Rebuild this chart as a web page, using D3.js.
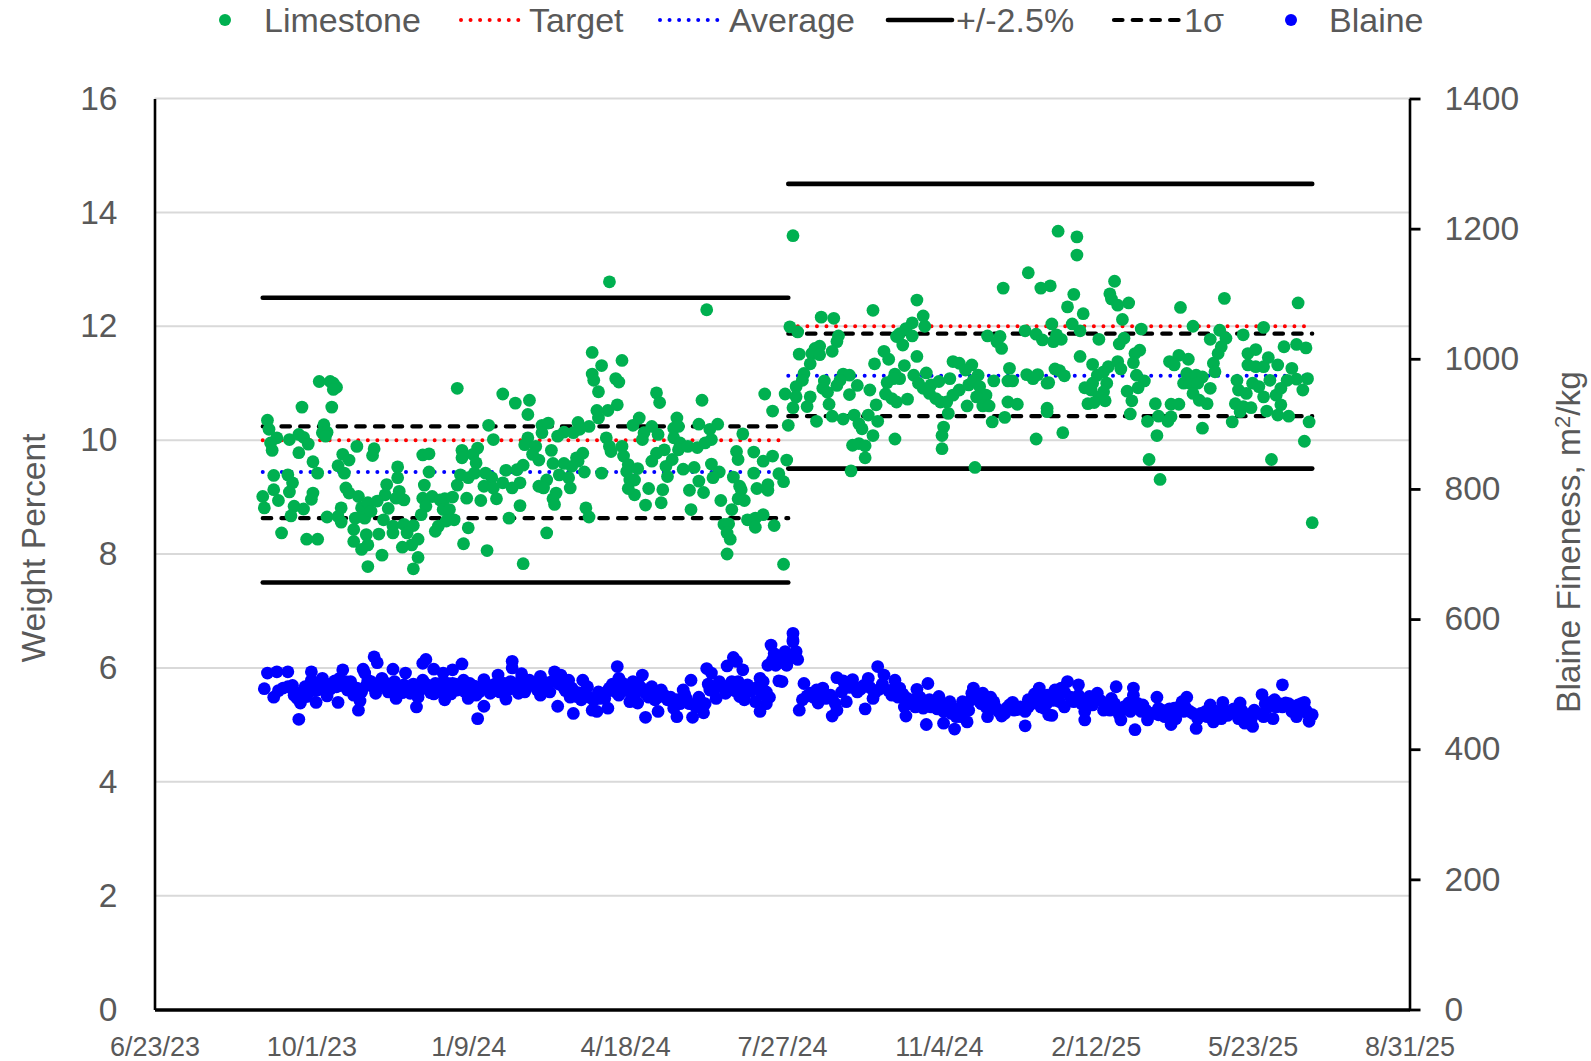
<!DOCTYPE html>
<html>
<head>
<meta charset="utf-8">
<script src="https://cdn.jsdelivr.net/npm/d3@7"></script>
<style>
  html, body { margin: 0; padding: 0; background: #fff; }
  text { font-family: "Liberation Sans", Arial, sans-serif; fill: #595959; }
</style>
</head>
<body>
<svg width="1591" height="1061"></svg>
<script>
// x values are days after the first axis date, 6/23/23
const START_DATE = Date.UTC(2023, 5, 23);
const X_TICK_DAYS = [0, 100, 200, 300, 400, 500, 600, 700, 800];
const WEIGHT_TICKS = [0, 2, 4, 6, 8, 10, 12, 14, 16];
const BLAINE_TICKS = [0, 200, 400, 600, 800, 1000, 1200, 1400];

// [day, weight percent]
const limestone = [
  [105,11.03],[112,11.03],[114,11.0],[116,10.93],[114,10.89],[94,10.58],[113,10.58],[193,10.91],[222,10.81],[230,10.65],
  [72,10.35],[73,10.19],[78,10.04],[74,9.95],[75,9.82],[86,10.01],[92,10.10],[95,10.05],[98,9.93],[92,9.78],
  [108,10.27],[107,10.13],[110,10.14],[109,10.07],[213,10.26],[216,10.01],[129,9.89],[140,9.85],[139,9.73],[171,9.74],
  [175,9.76],[196,9.82],[196,9.69],[206,9.86],[203,9.75],[205,9.60],[120,9.75],[124,9.65],[101,9.62],[117,9.55],
  [121,9.42],[104,9.42],[155,9.53],[155,9.34],[175,9.44],[76,9.38],[85,9.39],[88,9.25],[86,9.09],[76,9.13],
  [69,9.01],[79,8.94],[70,8.81],[101,9.07],[100,8.96],[122,9.16],[124,9.07],[130,9.01],[148,9.22],[147,9.04],
  [156,9.10],[154,8.98],[159,8.95],[172,9.21],[171,8.98],[177,9.01],[173,8.84],[170,8.69],[193,9.21],[195,9.39],
  [200,9.34],[204,9.42],[211,9.42],[215,9.34],[210,9.19],[216,9.16],[222,9.25],[228,9.16],[224,9.47],[231,9.48],
  [208,8.94],[218,8.97],[199,8.98],[190,9.0],[185,8.97],[182,8.95],[89,8.84],[95,8.79],[87,8.67],[110,8.65],
  [119,8.81],[117,8.66],[119,8.56],[128,8.63],[134,8.63],[132,8.81],[136,8.90],[142,8.93],[138,8.75],[149,8.80],
  [146,8.60],[184,8.78],[188,8.78],[191,8.60],[186,8.58],[181,8.49],[179,8.40],[226,8.63],[233,8.85],[81,8.37],
  [97,8.26],[104,8.26],[127,8.43],[127,8.22],[135,8.34],[136,8.16],[132,8.08],[143,8.35],[152,8.49],[152,8.37],
  [159,8.52],[165,8.50],[161,8.37],[168,8.26],[164,8.16],[158,8.12],[145,7.98],[136,7.78],[168,7.94],[165,7.74],
  [200,8.46],[197,8.18],[212,8.06],[235,7.83],
  [290,12.78],[352,12.29],[279,11.54],[285,11.31],[298,11.40],[279,11.16],[280,11.05],[294,11.08],[296,11.02],[283,10.85],
  [320,10.83],[322,10.66],[349,10.70],[389,10.81],[402,10.81],[394,10.51],[239,10.70],[238,10.45],[295,10.62],[289,10.52],
  [282,10.52],[283,10.39],[247,10.26],[251,10.30],[247,10.13],[270,10.31],[277,10.24],[271,10.19],[267,10.13],[261,10.14],
  [257,10.07],[309,10.39],[305,10.26],[317,10.24],[321,10.10],[312,10.13],[311,10.01],[333,10.39],[331,10.21],[334,10.24],
  [347,10.28],[404,10.26],[359,10.28],[354,10.19],[331,10.04],[335,9.95],[334,9.83],[340,9.89],[346,9.87],[351,9.95],
  [355,10.01],[375,10.11],[238,10.04],[236,9.92],[243,9.89],[241,9.75],[245,9.65],[253,9.82],[288,10.04],[290,9.89],
  [291,9.80],[298,9.89],[299,9.72],[302,9.57],[273,9.77],[269,9.69],[270,9.63],[266,9.54],[254,9.59],[261,9.59],
  [235,9.56],[233,9.25],[274,9.44],[258,9.39],[264,9.34],[285,9.42],[301,9.45],[308,9.50],[303,9.30],[306,9.30],
  [325,9.83],[320,9.77],[317,9.63],[330,9.66],[326,9.54],[327,9.36],[337,9.49],[344,9.52],[355,9.58],[360,9.44],
  [356,9.34],[371,9.80],[372,9.66],[382,9.79],[394,9.72],[388,9.63],[403,9.65],[382,9.42],[398,9.41],[401,9.27],
  [369,9.35],[373,9.19],[374,9.13],[391,9.22],[391,9.12],[384,9.15],[372,8.97],[376,8.94],[361,8.94],[347,9.28],
  [341,9.12],[350,9.08],[324,9.13],[323,8.90],[315,9.15],[306,9.04],[302,9.15],[250,9.30],[245,9.19],[248,9.16],
  [265,9.16],[256,9.07],[254,8.97],[255,8.87],[313,8.86],[275,8.81],[277,8.65],[342,8.78],[368,8.78],[378,8.60],
  [383,8.63],[388,8.69],[383,8.47],[395,8.50],[363,8.52],[366,8.53],[365,8.37],[367,8.26],[250,8.37],[365,8.0],[401,7.82],
  [407,13.59],[405,11.99],[410,11.90],[425,12.16],[433,12.14],[458,12.28],[486,12.46],[490,12.18],[491,12.00],[483,12.06],
  [479,11.96],[475,11.87],[473,11.82],[483,11.83],[477,11.67],[436,11.83],[435,11.73],[432,11.56],[424,11.65],[421,11.61],
  [419,11.52],[424,11.50],[411,11.51],[418,11.34],[465,11.56],[468,11.42],[459,11.34],[486,11.47],[478,11.31],[414,11.17],
  [413,11.05],[409,10.94],[409,10.76],[418,10.76],[407,10.57],[416,10.59],[427,11.04],[426,10.91],[429,10.84],[430,10.63],
  [439,11.16],[443,11.14],[437,11.05],[435,10.96],[448,10.96],[443,10.80],[456,10.88],[467,11.01],[472,11.16],[475,11.08],
  [471,11.08],[466,10.81],[470,10.73],[473,10.67],[480,10.72],[460,10.62],[484,11.14],[487,11.0],[492,11.18],[490,10.91],
  [495,10.97],[500,11.03],[494,10.82],[498,10.73],[501,10.67],[505,10.67],[507,11.08],[509,10.79],[513,10.88],[519,10.97],
  [509,11.38],[513,11.35],[521,11.32],[517,11.23],[525,11.14],[522,11.05],[526,10.94],[530,10.79],[524,10.76],[518,10.60],
  [528,10.60],[532,10.60],[506,10.47],[535,11.04],[545,11.26],[544,11.04],[547,11.04],[544,10.67],[550,10.63],[531,11.83],
  [539,11.82],[537,11.73],[540,11.61],[555,11.92],[562,11.86],[566,11.76],[556,11.15],[560,11.08],[563,11.15],[569,11.0],
  [569,10.56],[541,12.67],[557,12.94],[565,12.67],[571,12.71],[432,10.42],[439,10.37],[446,10.44],[449,10.29],[451,10.20],
  [455,10.44],[461,10.33],[458,10.08],[472,10.02],[422,10.33],[445,9.91],[449,9.94],[453,9.90],[453,9.69],[444,9.46],
  [503,10.23],[502,10.08],[502,9.85],[534,10.32],[542,10.40],[562,10.02],[523,9.52],
  [576,13.67],[588,13.57],[588,13.25],[612,12.79],[609,12.57],[610,12.48],[614,12.37],[621,12.41],[586,12.56],[582,12.34],
  [592,12.22],[617,12.12],[654,12.33],[682,12.49],[729,12.41],[572,12.04],[585,12.04],[590,11.92],[629,11.95],[662,12.0],
  [679,11.93],[707,11.98],[694,11.85],[673,11.77],[683,11.79],[680,11.64],[678,11.52],[573,11.73],[578,11.77],[575,11.85],
  [602,11.77],[618,11.79],[615,11.69],[628,11.58],[625,11.52],[624,11.36],[590,11.47],[598,11.33],[608,11.29],[614,11.38],
  [616,11.25],[574,11.25],[577,11.22],[580,11.13],[570,11.01],[605,11.20],[601,11.14],[598,11.0],[607,11.0],[593,10.92],
  [597,10.88],[605,10.85],[602,10.76],[606,10.69],[599,10.66],[595,10.64],[626,11.14],[631,11.04],[627,10.92],[620,10.86],
  [623,10.69],[569,10.50],[622,10.46],[638,10.64],[648,10.63],[653,10.63],[640,10.42],[648,10.41],[646,10.33],[633,10.33],
  [579,10.13],[639,10.08],[668,10.21],[634,9.66],[712,9.66],[641,9.31],[733,9.98],[738,8.55],[736,10.32],[723,10.42],
  [687,10.32],[647,11.38],[653,11.49],[650,11.32],[659,11.42],[658,11.17],[656,11.0],[660,11.0],[664,11.14],[668,11.11],
  [665,11.0],[673,10.91],[662,10.82],[666,10.70],[671,10.64],[675,11.35],[676,11.2],[690,11.05],[691,10.88],[689,10.64],
  [692,10.50],[694,10.59],[699,10.57],[696,10.82],[700,11.0],[704,10.94],[707,10.76],[711,11.05],[715,10.79],[718,10.62],
  [716,10.44],[709,10.51],[697,11.52],[702,11.59],[697,11.32],[702,11.29],[707,11.29],[710,11.45],[716,11.32],[720,11.64],
  [728,11.68],[734,11.62],[725,11.26],[735,11.08],[732,10.88],[728,11.07],[722,11.05],[718,10.91]
];

// [day, Blaine fineness]
const blaine = [
  [78,519],[72,517],[85,519],[100,519],[120,522],[133,523],[140,542],[142,533],[152,523],[160,517],
  [173,538],[171,532],[178,523],[184,517],[190,522],[196,531],[228,535],[228,525],[210,507],[219,514],
  [234,516],[70,493],[76,480],[79,490],[85,496],[89,483],[93,471],[92,446],[96,496],[100,506],
  [103,472],[107,509],[110,482],[117,472],[113,501],[118,509],[125,504],[129,494],[127,483],[131,474],
  [130,460],[136,506],[140,494],[145,509],[148,501],[154,478],[153,504],[159,499],[163,486],[167,465],
  [171,506],[176,496],[178,485],[185,476],[179,501],[187,501],[193,491],[197,506],[200,478],[201,501],
  [205,483],[210,466],[206,447],[214,486],[219,494],[224,477],[227,504],[231,491],[237,501],[236,488],
  [82,494],[91,478],[97,481],[104,491],[109,496],[116,496],[123,491],[134,517],[143,499],[150,494],
  [167,494],[182,488],[190,501],[207,488],[222,494],
  [88,498],[94,488],[99,497],[102,490],[106,500],[112,492],[115,505],[119,498],[122,504],[126,496],
  [132,488],[135,498],[138,504],[141,486],[146,497],[149,488],[152,494],[156,497],[158,487],[161,492],
  [165,500],[168,480],[170,492],[173,500],[176,487],[180,494],[183,502],[186,492],[189,485],[192,500],
  [195,495],[198,488],[202,493],[204,497],[208,495],[212,499],[215,492],[217,500],[220,488],[223,501],
  [226,492],[229,500],[232,486],[235,496],
  [234,509],[239,506],[246,512],[246,483],[255,519],[259,514],[264,506],[266,494],[257,466],[267,455],
  [273,506],[276,496],[272,476],[279,460],[282,458],[283,488],[289,463],[295,527],[296,509],[290,494],
  [296,483],[305,504],[311,514],[303,473],[308,471],[313,449],[317,496],[321,458],[323,491],[319,476],
  [327,476],[331,463],[333,450],[337,491],[339,478],[343,449],[350,456],[348,473],[342,506],[352,524],
  [355,517],[360,504],[354,491],[358,478],[364,486],[365,528],[369,541],[371,535],[375,522],[368,504],
  [372,504],[373,481],[378,499],[376,476],[386,509],[388,504],[383,473],[390,488],[390,470],[386,458],
  [391,529],[396,529],[393,560],[395,547],[402,550],[403,529],[408,547],[407,568],[407,578],[398,505],
  [244,491],[252,488],[261,494],[237,494],[269,481],[287,478],[299,494],[313,486],[333,476],[405,542],
  [394,537],[399,542],
  [242,500],[247,497],[250,502],[254,505],[258,500],[262,490],[265,480],[270,487],[274,488],[277,480],
  [280,475],[284,478],[288,488],[292,500],[294,488],[298,502],[301,490],[304,494],[306,483],[309,498],
  [312,492],[315,480],[318,488],[321,480],[325,483],[329,480],[331,473],[335,470],[338,484],[341,470],
  [345,465],[347,480],[351,470],[353,500],[356,490],[359,496],[362,498],[366,495],[370,490],[374,493],
  [380,489],[384,495],[387,485],[392,480],
  [407,565],[402,545],[409,550],[410,538],[403,530],[400,504],[414,501],[413,476],[411,460],[418,486],
  [423,471],[426,494],[422,491],[432,478],[432,451],[435,460],[435,510],[439,505],[445,507],[441,473],
  [448,488],[453,462],[455,509],[459,486],[461,527],[465,514],[472,506],[470,483],[475,494],[478,465],
  [479,451],[486,492],[484,476],[490,463],[493,501],[494,476],[492,438],[500,481],[503,458],[503,440],
  [507,473],[510,431],[511,450],[515,473],[518,442],[519,460],[522,494],[521,486],[528,486],[526,473],
  [535,473],[531,450],[533,463],[540,451],[547,472],[543,463],[550,461],[557,465],[555,436],[557,476],
  [564,494],[562,478],[569,483],[570,453],[565,465],
  [416,482],[420,480],[425,485],[428,478],[431,483],[434,470],[438,488],[443,495],[447,495],[450,492],
  [452,498],[456,495],[458,478],[462,492],[464,500],[468,490],[471,492],[474,480],[477,485],[480,478],
  [482,470],[485,465],[488,480],[491,470],[495,465],[497,472],[499,462],[502,470],[505,462],[508,455],
  [512,462],[514,450],[517,463],[520,475],[523,483],[525,480],[527,470],[530,465],[533,480],[536,465],
  [538,458],[542,455],[545,468],[548,460],[552,465],[555,458],[559,470],[561,485],[566,480],
  [582,504],[589,499],[578,494],[574,491],[571,481],[577,473],[565,471],[567,463],[572,452],[586,473],
  [589,483],[593,458],[593,445],[596,481],[601,486],[605,460],[609,460],[610,478],[613,496],[615,453],
  [616,445],[621,471],[624,494],[624,483],[625,430],[630,468],[633,445],[639,480],[640,463],[640,453],
  [646,453],[648,438],[650,463],[655,473],[658,480],[651,447],[660,458],[664,432],[665,447],[670,458],
  [673,468],[675,442],[680,447],[681,472],[686,458],[692,471],[691,447],[695,440],[700,435],[701,460],
  [706,484],[707,450],[713,447],[714,476],[719,499],[721,471],[728,450],[729,468],[733,472],[736,443],
  [738,453],[734,460],[725,458],[709,463],[697,453],[677,458],[656,458],
  [569,471],[573,475],[576,484],[580,488],[584,480],[580,465],[591,470],[595,470],[598,468],[603,475],
  [607,468],[612,470],[614,462],[618,465],[622,458],[627,470],[629,458],[632,460],[636,455],[642,460],
  [644,450],[647,462],[653,465],[657,465],[662,455],[667,455],[671,450],[676,458],[678,450],[682,460],
  [684,452],[688,462],[690,455],[693,460],[696,448],[699,445],[703,455],[708,470],[711,472],[715,465],
  [717,470],[719,465],[723,470],[726,465],[730,458],[731,470],[735,455]
];

// horizontal reference lines, [startDay, endDay, value]
const targetLines = [[69, 399, 10], [404, 733, 12]];
const averageLines = [[69, 399, 9.44], [404, 733, 11.13]];
const limitLines = [[69, 404, 12.5], [69, 404, 7.5], [404, 738, 14.5], [404, 738, 9.5]];
const sigmaLines = [[69, 404, 10.24], [69, 404, 8.63], [404, 738, 11.87], [404, 738, 10.42]];

const legendLabels = ["Limestone", "Target", "Average", "+/-2.5%", "1σ", "Blaine"];

const GREEN = "#00b050", BLUE = "#0000ff", RED = "#ff0000", GREY = "#595959";

const svg = d3.select("svg");
const margin = {top: 98.5, right: 181.5, bottom: 51.5, left: 154.5},
  width = 1591 - margin.left - margin.right,
  height = 1061 - margin.top - margin.bottom,
  g = svg.append("g").attr("transform", "translate(" + margin.left + "," + margin.top + ")");

const dayToDate = d => new Date(START_DATE + d * 864e5);

const x = d3.scaleUtc()
  .domain([dayToDate(0), dayToDate(800)])
  .range([0, width]);
const y = d3.scaleLinear().domain([0, 16]).range([height, 0]);
const y2 = d3.scaleLinear().domain([0, 1400]).range([height, 0]);

// gridlines
g.append("g").selectAll("line")
  .data(WEIGHT_TICKS.filter(d => d > 0))
  .join("line")
  .attr("x1", 0).attr("x2", width)
  .attr("y1", d => y(d)).attr("y2", d => y(d))
  .attr("stroke", "#d9d9d9").attr("stroke-width", 2);

function drawLines(rows, color, strokeWidth, dash, cap) {
  g.append("g").selectAll("line")
    .data(rows)
    .join("line")
    .attr("x1", d => x(dayToDate(d[0])))
    .attr("x2", d => x(dayToDate(d[1])))
    .attr("y1", d => y(d[2]))
    .attr("y2", d => y(d[2]))
    .attr("stroke", color)
    .attr("stroke-width", strokeWidth)
    .attr("stroke-dasharray", dash)
    .attr("stroke-linecap", cap);
}

drawLines(targetLines, RED, 4, "0,9.55", "round");
drawLines(averageLines, BLUE, 4, "0,9.55", "round");
drawLines(limitLines, "#000", 4.6, null, "round");
drawLines(sigmaLines, "#000", 4.2, "8.5,10.2", "round");

// axes
const leftAxis = g.append("g")
  .call(d3.axisLeft(y).tickValues(WEIGHT_TICKS).tickSize(0).tickPadding(37));
leftAxis.select(".domain").attr("stroke", "#000").attr("stroke-width", 2.6);
leftAxis.selectAll("text").style("font-size", "33.5px").attr("fill", GREY);

const rightAxis = g.append("g")
  .attr("transform", "translate(" + width + ",0)")
  .call(d3.axisRight(y2).tickValues(BLAINE_TICKS).tickFormat(d3.format("d")).tickSize(11).tickSizeOuter(0).tickPadding(24));
rightAxis.select(".domain").attr("stroke", "#000").attr("stroke-width", 2.6);
rightAxis.selectAll("line").attr("stroke", "#000").attr("stroke-width", 2.8);
rightAxis.selectAll("text").style("font-size", "33.5px").attr("fill", GREY);

const bottomAxis = g.append("g")
  .attr("transform", "translate(0," + height + ")")
  .call(d3.axisBottom(x)
    .tickValues(X_TICK_DAYS.map(dayToDate))
    .tickFormat(d3.utcFormat("%-m/%-d/%y"))
    .tickSize(0).tickPadding(27));
bottomAxis.select(".domain").attr("stroke", "#000").attr("stroke-width", 3.4);
bottomAxis.selectAll("text").style("font-size", "27px").attr("fill", GREY);

// points
g.append("g").selectAll("circle")
  .data(limestone)
  .join("circle")
  .attr("cx", d => x(dayToDate(d[0])))
  .attr("cy", d => y(d[1]))
  .attr("r", 6.4)
  .attr("fill", GREEN);

g.append("g").selectAll("circle")
  .data(blaine)
  .join("circle")
  .attr("cx", d => x(dayToDate(d[0])))
  .attr("cy", d => y2(d[1]))
  .attr("r", 6.4)
  .attr("fill", BLUE);

// axis titles
svg.append("text")
  .attr("transform", "translate(45,548) rotate(-90)")
  .attr("text-anchor", "middle")
  .style("font-size", "33.6px")
  .text("Weight Percent");

const rightTitle = svg.append("text")
  .attr("transform", "translate(1580,542) rotate(-90)")
  .attr("text-anchor", "middle")
  .style("font-size", "33.5px");
rightTitle.append("tspan").text("Blaine Fineness, m");
rightTitle.append("tspan").attr("dy", -10).style("font-size", "22px").text("2");
rightTitle.append("tspan").attr("dy", 10).text("/kg");

// legend
const legendTextX = [264, 529, 729, 956, 1184, 1329];
const legendKeyX = [225, [461, 524], [660, 723], [888, 952], [1114, 1179], 1291];
const legendY = 20;

legendLabels.forEach((label, i) => {
  svg.append("text")
    .attr("x", legendTextX[i])
    .attr("y", 32)
    .style("font-size", "34px")
    .text(label);
});

[[0, GREEN], [5, BLUE]].forEach(([i, color]) => {
  svg.append("circle")
    .attr("cx", legendKeyX[i]).attr("cy", legendY).attr("r", 6).attr("fill", color);
});

[[1, RED, 4, "0,9.55"], [2, BLUE, 4, "0,9.55"], [3, "#000", 4.6, null], [4, "#000", 4.2, "8.5,10.2"]]
  .forEach(([i, color, sw, dash]) => {
    svg.append("line")
      .attr("x1", legendKeyX[i][0]).attr("x2", legendKeyX[i][1])
      .attr("y1", legendY).attr("y2", legendY)
      .attr("stroke", color).attr("stroke-width", sw)
      .attr("stroke-dasharray", dash).attr("stroke-linecap", "round");
  });
</script>
</body>
</html>
